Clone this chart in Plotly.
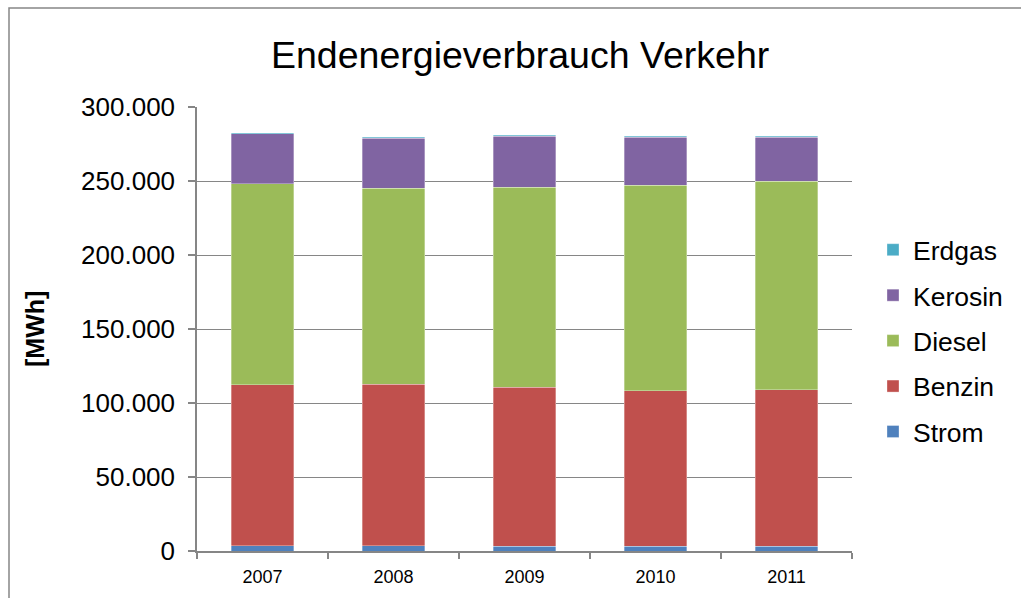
import plotly.graph_objects as go

years = ["2007", "2008", "2009", "2010", "2011"]
strom = [3700, 3700, 3300, 3300, 3300]
benzin = [108500, 108900, 107500, 105100, 105500]
diesel = [136000, 132500, 135000, 138900, 141200]
kerosin = [33600, 33700, 34400, 32100, 29400]
erdgas = [900, 700, 700, 800, 800]

series = [
    ("Strom", strom, "#4F81BD"),
    ("Benzin", benzin, "#C0504D"),
    ("Diesel", diesel, "#9BBB59"),
    ("Kerosin", kerosin, "#8064A2"),
    ("Erdgas", erdgas, "#4BACC6"),
]

y_ticks = [0, 50000, 100000, 150000, 200000, 250000, 300000]

FONT = "Liberation Sans, Arial, sans-serif"
GRID = "#868686"

fig = go.Figure()
n = len(series)
for i, (name, vals, col) in enumerate(series):
    fig.add_trace(go.Bar(
        x=years, y=vals, name=name, legendgroup=name, legendrank=1000 + (n - i),
        marker=dict(color=col, line=dict(color="rgba(255,255,255,0.45)", width=0.7)),
    ))

L, R, T, B = 197, 852, 107, 551
W, H = 1021, 598
pw, ph = R - L, B - T

fig.update_layout(
    width=W, height=H,
    margin=dict(l=L, r=W - R, t=T, b=H - B),
    barmode="stack",
    bargap=0.52,
    separators=",.",
    plot_bgcolor="white",
    paper_bgcolor="white",
    font=dict(family=FONT, color="black"),
    showlegend=True,
    legend=dict(
        traceorder="grouped",
        tracegroupgap=8,
        x=(873 - L) / pw, xanchor="left",
        y=(B - 341) / ph, yanchor="middle",
        font=dict(size=26.5, family=FONT),
        bgcolor="rgba(0,0,0,0)",
    ),
    xaxis=dict(
        type="category",
        showline=True, linecolor=GRID, linewidth=1.5,
        ticks="outside", tickson="boundaries", ticklen=6, tickcolor=GRID, tickwidth=1.5,
        tickfont=dict(size=18, family=FONT),
        ticklabelstandoff=9,
        showgrid=False,
    ),
    yaxis=dict(
        range=[0, 300000],
        tickvals=y_ticks,
        tickformat=",.0f",
        showgrid=True, gridcolor=GRID, gridwidth=1,
        showline=True, linecolor=GRID, linewidth=1.5,
        ticks="outside", ticklen=7, tickcolor=GRID, tickwidth=1.5,
        tickfont=dict(size=26, family=FONT),
        zeroline=False,
        ticklabelstandoff=8,
    ),
    annotations=[
        dict(text="Endenergieverbrauch Verkehr", xref="paper", yref="paper",
             x=(520 - L) / pw, y=(B - 55) / ph, xanchor="center", yanchor="middle",
             showarrow=False, font=dict(size=37.5, family=FONT)),
        dict(text="<b>[MWh]</b>", xref="paper", yref="paper",
             x=(35 - L) / pw, y=(B - 329) / ph, xanchor="center", yanchor="middle",
             textangle=-90, showarrow=False, font=dict(size=25, family=FONT)),
    ],
    shapes=[
        dict(type="path", xref="paper", yref="paper",
             path=f"M {(9 - L) / pw},{-0.3} L {(9 - L) / pw},{(B - 8) / ph} L 1.4,{(B - 8) / ph}",
             line=dict(color=GRID, width=1.5), layer="above"),
    ],
)

fig.write_html("out.html", config={"displayModeBar": False},
               post_script="document.body.style.margin='0';")
